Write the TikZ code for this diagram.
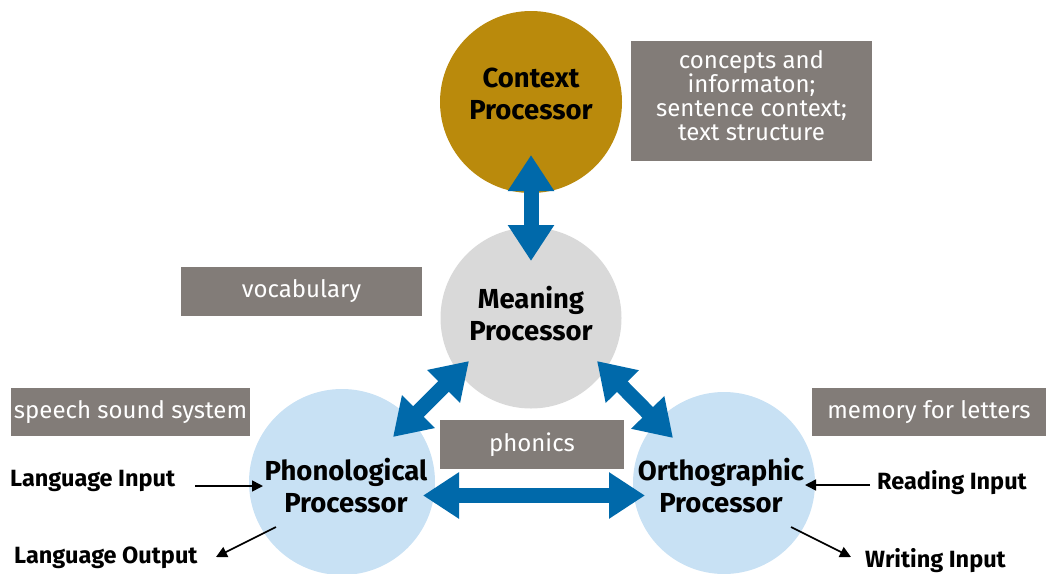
\documentclass[tikz,border=0pt]{standalone}
\usepackage{fontspec}
\setmainfont{Fira Sans}
\usetikzlibrary{arrows.meta}
\definecolor{gold}{RGB}{186,138,12}
\definecolor{mgray}{RGB}{217,217,217}
\definecolor{lblue}{RGB}{200,225,244}
\definecolor{bgray}{RGB}{130,124,120}
\definecolor{ablue}{RGB}{0,105,170}
\tikzset{
  proc/.style={circle,minimum size=#1,inner sep=0pt},
  ptext/.style={inner sep=0pt,align=center,font=\fontsize{27.5}{32}\selectfont\bfseries},
  lbox/.style={fill=bgray,text=white,inner sep=0pt,align=center,font=\fontsize{24}{24}\selectfont},
  bigarrow/.style={draw=ablue,line width=15pt,{Triangle[width=44pt,length=36pt]}-{Triangle[width=44pt,length=36pt]},shorten <=0pt,shorten >=0pt},
  smallarrow/.style={draw=black,line width=1.6pt,-{Triangle[width=11pt,length=11pt]}},
  side/.style={inner sep=0pt,font=\fontsize{23.5}{24}\selectfont\bfseries},
}
\begin{document}
\begin{tikzpicture}[x=1pt,y=-1pt]
\useasboundingbox (0,0) rectangle (1046,573);
\node[proc=182pt,fill=gold] (ctx) at (531,102) {};
\node[proc=181pt,fill=mgray] (mean) at (531,318) {};
\node[proc=186pt,fill=lblue] (phon) at (342,482) {};
\node[proc=182pt,fill=lblue] (orth) at (724,483) {};
\node[ptext] (ctxt) at (531,94) {Context\\Processor};
\node[ptext] (meant) at (531,314) {Meaning\\Processor};
\node[ptext] (phont) at (346,486) {Phonological\\Processor};
\node[ptext] (ortht) at (721,486) {Orthographic\\Processor};
% boxes
\node[lbox,minimum width=241pt,minimum height=120pt] (cbox) at (751.5,101) {};
\node[lbox] (cboxt) at (751.5,96) {concepts and\\informaton;\\sentence context;\\text structure};
\node[lbox,minimum width=241pt,minimum height=49pt] (vbox) at (301.5,291.5) {vocabulary};
\node[lbox,minimum width=239pt,minimum height=48pt] (sbox) at (130.5,412) {speech sound system};
\node[lbox,minimum width=234pt,minimum height=48pt] (mbox) at (929,412) {memory for letters};
\node[lbox,minimum width=184pt,minimum height=49pt] (pbox) at (532,444.5) {phonics};
% big arrows
\coordinate (a1) at (531,155);
\coordinate (a2) at (531,261);
\draw[bigarrow] (a1) -- (a2);
\coordinate (b1) at (423,495.5);
\coordinate (b2) at (645,495.5);
\draw[bigarrow] (b1) -- (b2);
\coordinate (c1) at (393,437);
\coordinate (c2) at (469,361);
\draw[bigarrow] (c1) -- (c2);
\coordinate (d1) at (597,361);
\coordinate (d2) at (673,438);
\draw[bigarrow] (d1) -- (d2);
% side labels
\node[side,anchor=west] (li) at (10,481) {Language Input};
\node[side,anchor=west] (lo) at (14,558) {Language Output};
\node[side,anchor=west] (ri) at (877,483) {Reading Input};
\node[side,anchor=west] (wi) at (865,561) {Writing Input};
\coordinate (li1) at (195,486);
\coordinate (li2) at (263,486);
\draw[smallarrow] (li1) -- (li2);
\coordinate (lo1) at (276,527);
\coordinate (lo2) at (216,557);
\draw[smallarrow] (lo1) -- (lo2);
\coordinate (ri1) at (870,485);
\coordinate (ri2) at (805,485);
\draw[smallarrow] (ri1) -- (ri2);
\coordinate (wi1) at (791,527);
\coordinate (wi2) at (851,557);
\draw[smallarrow] (wi1) -- (wi2);
\end{tikzpicture}
\end{document}
